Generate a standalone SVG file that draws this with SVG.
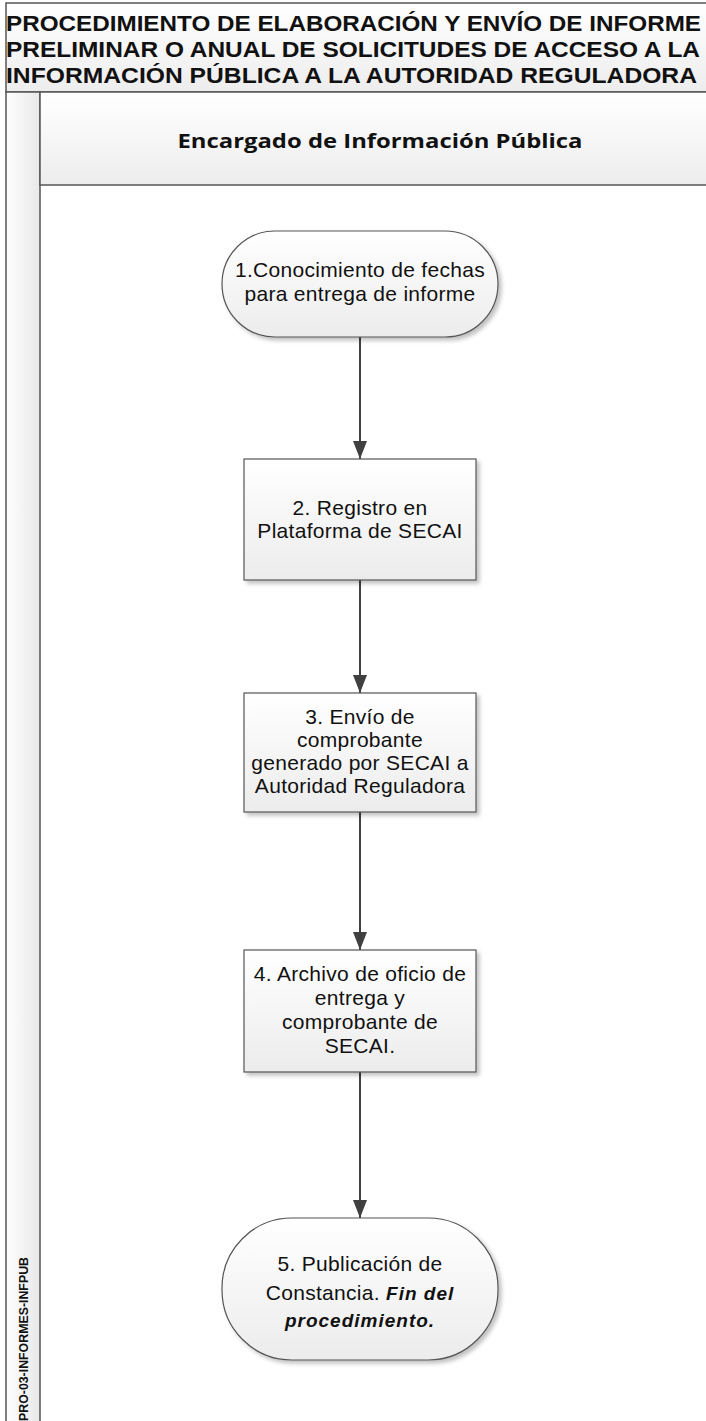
<svg xmlns="http://www.w3.org/2000/svg" width="706" height="1421" viewBox="0 0 706 1421">
<defs>
<linearGradient id="gNode" x1="0" y1="0" x2="0" y2="1">
<stop offset="0" stop-color="#ffffff"/>
<stop offset="1" stop-color="#ececec"/>
</linearGradient>
<linearGradient id="gHead" x1="0" y1="0" x2="0" y2="1">
<stop offset="0" stop-color="#ffffff"/>
<stop offset="1" stop-color="#ededed"/>
</linearGradient>
<linearGradient id="gStrip" x1="0" y1="0" x2="1" y2="0">
<stop offset="0" stop-color="#ffffff"/>
<stop offset="1" stop-color="#e8e8e8"/>
</linearGradient>
<filter id="sh" x="-10%" y="-10%" width="130%" height="130%">
<feGaussianBlur in="SourceAlpha" stdDeviation="2"/>
<feOffset dx="3" dy="3" result="b"/>
<feComponentTransfer><feFuncA type="linear" slope="0.25"/></feComponentTransfer>
<feMerge><feMergeNode/><feMergeNode in="SourceGraphic"/></feMerge>
</filter>
<marker id="arr" markerWidth="18" markerHeight="14" refX="18" refY="7" orient="auto" markerUnits="userSpaceOnUse" viewBox="0 0 18 14">
<path d="M0,0 L18,7 L0,14 Z" fill="#404040"/>
</marker>
</defs>
<style>
.frame{fill:none;stroke:#555;stroke-width:1.5}
.node{fill:url(#gNode);stroke:#555;stroke-width:1.2;filter:url(#sh)}
.t{font-family:"Liberation Sans",Arial,sans-serif;font-size:21px;letter-spacing:0.3px;fill:#111;text-anchor:middle}
.bi{font-weight:bold;font-style:italic;font-size:19px;letter-spacing:1px}
.title{font-family:"Liberation Sans",Arial,sans-serif;font-size:22.5px;font-weight:bold;fill:#111}
.lane{font-family:"Open Sans","Liberation Sans",sans-serif;font-size:19px;font-weight:bold;fill:#111;text-anchor:middle}
.conn{stroke:#404040;stroke-width:2;fill:none}
</style>
<rect x="0" y="0" width="706" height="1421" fill="#ffffff"/>
<g id="pool">
<rect x="6" y="3" width="705" height="89" fill="url(#gHead)" stroke="#555" stroke-width="1.5"/>
<text class="title" x="6" y="31" textLength="695" lengthAdjust="spacingAndGlyphs">PROCEDIMIENTO DE ELABORACIÓN Y ENVÍO DE INFORME</text>
<text class="title" x="6" y="57" textLength="694" lengthAdjust="spacingAndGlyphs">PRELIMINAR O ANUAL DE SOLICITUDES DE ACCESO A LA</text>
<text class="title" x="6" y="83" textLength="691" lengthAdjust="spacingAndGlyphs">INFORMACIÓN PÚBLICA A LA AUTORIDAD REGULADORA</text>
<rect x="6" y="92" width="34" height="1335" fill="url(#gStrip)" stroke="#555" stroke-width="1.5"/>
<rect x="40" y="92" width="671" height="93" fill="url(#gHead)" stroke="#555" stroke-width="1.5"/>
<text class="lane" x="380" y="148" textLength="405" lengthAdjust="spacingAndGlyphs">Encargado de Información Pública</text>
<text x="28" y="1421" transform="rotate(-90 28 1421)" font-family="'Liberation Sans',Arial,sans-serif" font-size="12.5px" font-weight="bold" fill="#111" textLength="164" lengthAdjust="spacingAndGlyphs">PRO-03-INFORMES-INFPUB</text>
</g>
<g id="connectors">
<line class="conn" x1="360" y1="337" x2="360" y2="459" marker-end="url(#arr)"/>
<line class="conn" x1="360" y1="580" x2="360" y2="693" marker-end="url(#arr)"/>
<line class="conn" x1="360" y1="812" x2="360" y2="950" marker-end="url(#arr)"/>
<line class="conn" x1="360" y1="1072" x2="360" y2="1218" marker-end="url(#arr)"/>
</g>
<g id="n1">
<rect class="node" x="222" y="231" width="276" height="106" rx="53" ry="53"/>
<text class="t" x="360" y="277">1.Conocimiento de fechas</text>
<text class="t" x="360" y="301">para entrega de informe</text>
</g>
<g id="n2">
<rect class="node" x="244" y="459" width="232" height="121"/>
<text class="t" x="360" y="515">2. Registro en</text>
<text class="t" x="360" y="538">Plataforma de SECAI</text>
</g>
<g id="n3">
<rect class="node" x="244" y="693" width="232" height="119"/>
<text class="t" x="360" y="724">3. Envío de</text>
<text class="t" x="360" y="747">comprobante</text>
<text class="t" x="360" y="770">generado por SECAI a</text>
<text class="t" x="360" y="793">Autoridad Reguladora</text>
</g>
<g id="n4">
<rect class="node" x="244" y="950" width="232" height="122"/>
<text class="t" x="360" y="981">4. Archivo de oficio de</text>
<text class="t" x="360" y="1005">entrega y</text>
<text class="t" x="360" y="1029">comprobante de</text>
<text class="t" x="360" y="1053">SECAI.</text>
</g>
<g id="n5">
<rect class="node" x="222" y="1218" width="276" height="142" rx="70" ry="70"/>
<text class="t" x="360" y="1271">5. Publicación de</text>
<text class="t" x="360" y="1300">Constancia. <tspan class="bi">Fin del</tspan></text>
<text class="t bi" x="360" y="1327">procedimiento.</text>
</g>
</svg>
